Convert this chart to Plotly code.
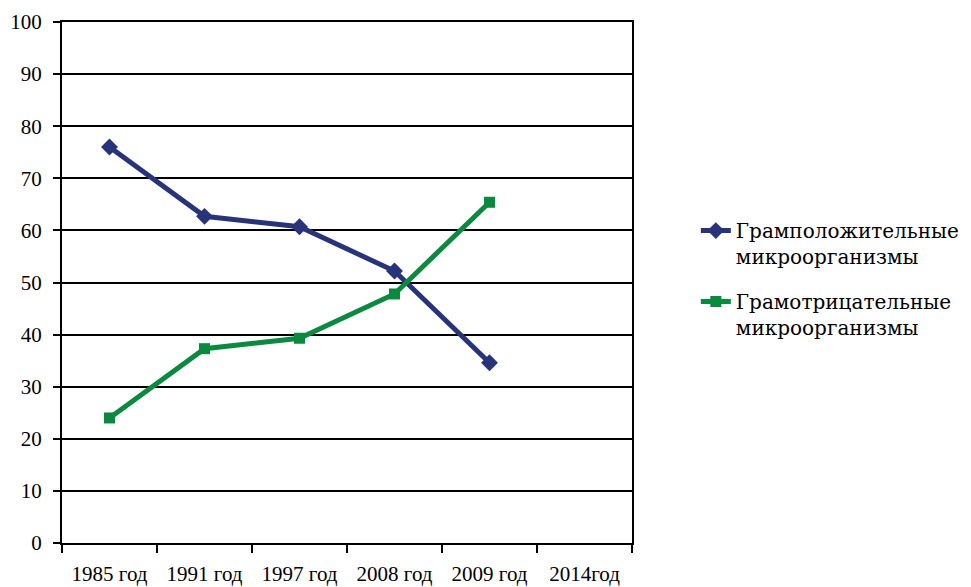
import plotly.graph_objects as go

categories = ["1985 год", "1991 год", "1997 год", "2008 год", "2009 год", "2014год"]
gram_pos = [76.0, 62.7, 60.7, 52.2, 34.6, None]
gram_neg = [24.0, 37.3, 39.3, 47.8, 65.4, None]
name_pos = "Грамположительные<br>микроорганизмы"
name_neg = "Грамотрицательные<br>микроорганизмы"

BLUE = "#28337A"
GREEN = "#0B8A3F"
FONT = "Liberation Serif, Times New Roman, serif"

fig = go.Figure()
fig.add_trace(go.Scatter(
    x=categories, y=gram_pos, name=name_pos, mode="lines+markers",
    line=dict(color=BLUE, width=5), legendgroup="a",
    marker=dict(symbol="diamond", size=13, color=BLUE),
))
fig.add_trace(go.Scatter(
    x=categories, y=gram_neg, name=name_neg, mode="lines+markers",
    line=dict(color=GREEN, width=5), legendgroup="b",
    marker=dict(symbol="square", size=11, color=GREEN),
))

# page body has an 8px margin, so the figure is sized/offset to compensate
fig.update_layout(
    width=963, height=579,
    margin=dict(l=54, r=339, t=14, b=44, autoexpand=False),
    paper_bgcolor="white", plot_bgcolor="white",
    font=dict(family=FONT, size=21, color="black"),
    showlegend=True,
    legend=dict(
        x=1.112, xanchor="left", y=0.637, yanchor="top",
        valign="top", font=dict(size=20, family="DejaVu Serif"), tracegroupgap=16,
        traceorder="grouped", bgcolor="rgba(0,0,0,0)",
    ),
    xaxis=dict(
        type="category", range=[-0.5, 5.5], tickson="boundaries",
        ticks="outside", ticklen=8, tickwidth=2, tickcolor="black",
        showline=True, linecolor="black", linewidth=2, mirror=True,
        showgrid=False, ticklabelstandoff=11, automargin=False,
        tickfont=dict(size=21, family=FONT),
    ),
    yaxis=dict(
        range=[0, 100], dtick=10, ticks="outside", ticklen=7, tickwidth=2,
        tickcolor="black", showline=True, linecolor="black", linewidth=2,
        mirror=True, showgrid=True, gridcolor="black", gridwidth=2,
        zeroline=False, ticklabelstandoff=7, automargin=False,
        tickfont=dict(size=21, family=FONT),
    ),
)

fig.write_html("out.html")
